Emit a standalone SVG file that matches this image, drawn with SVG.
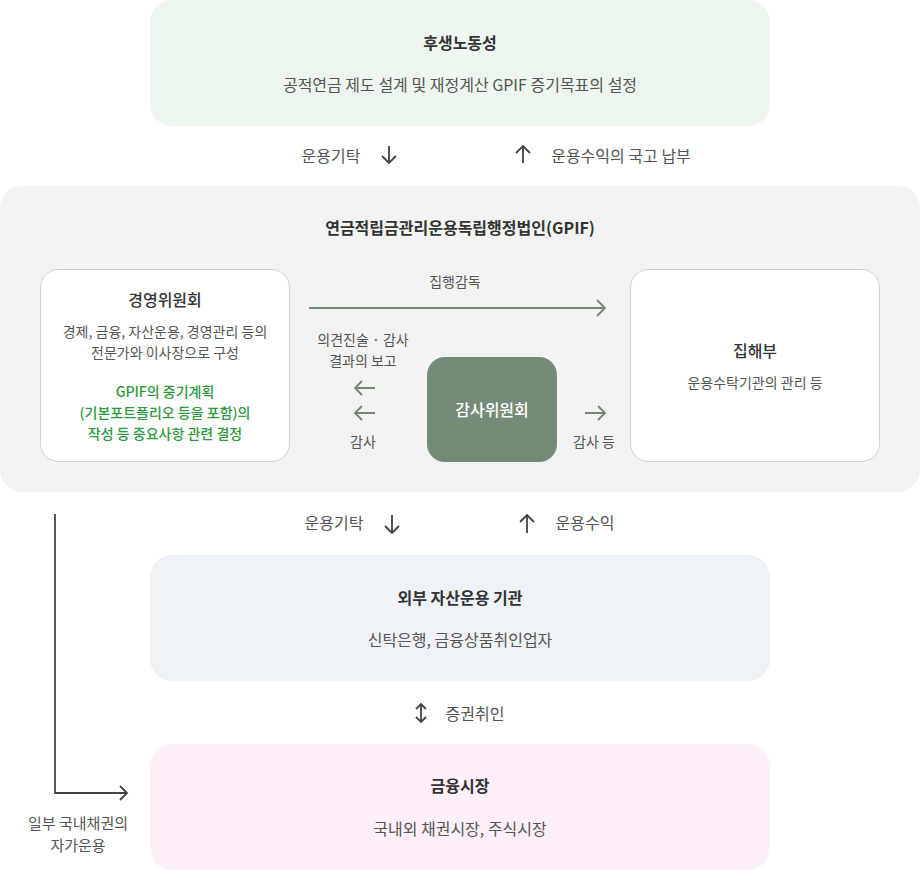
<svg xmlns="http://www.w3.org/2000/svg" width="920" height="870" viewBox="0 0 920 870">
<defs>
<style>
text{font-family:"Noto Sans CJK KR","Noto Sans",sans-serif;text-anchor:middle;}
.t{font-size:16px;font-weight:700;fill:#333;}
.m{font-size:16px;font-weight:500;fill:#333;}
.b{font-size:16px;fill:#555;}
.s{font-size:14px;fill:#555;}
.g{font-size:14px;fill:#2e9a3e;font-weight:500;}
.w{font-size:16px;fill:#fff;font-weight:500;}
.dk{fill:none;stroke:#444;stroke-width:1.8;}
.gr{fill:none;stroke:#6f8a72;stroke-width:1.8;}
</style>
</defs>
<rect width="920" height="870" fill="#fff"/>
<g id="mhlw">
<rect x="150" y="0" width="620" height="126" rx="22" fill="#eef6f0"/>
<text class="t" x="460" y="49">후생노동성</text>
<text class="b" x="460" y="91">공적연금 제도 설계 및 재정계산 GPIF 증기목표의 설정</text>
</g>
<g id="gpif">
<rect x="0" y="186" width="920" height="306" rx="22" fill="#f3f3f3"/>
<text class="t" x="460" y="234">연금적립금관리운용독립행정법인(GPIF)</text>
</g>
<g id="board">
<rect x="40.5" y="269.5" width="249" height="192" rx="18" fill="#fff" stroke="#d0d0d0"/>
<text class="m" x="165" y="306">경영위원회</text>
<text class="s" x="165" y="337">경제, 금융, 자산운용, 경영관리 등의</text>
<text class="s" x="165" y="358">전문가와 이사장으로 구성</text>
<text class="g" x="165" y="397">GPIF의 중기계획</text>
<text class="g" x="165" y="418">(기본포트폴리오 등을 포함)의</text>
<text class="g" x="165" y="439">작성 등 중요사항 관련 결정</text>
</g>
<g id="exec">
<rect x="630.5" y="269.5" width="249" height="192" rx="18" fill="#fff" stroke="#d0d0d0"/>
<text class="m" x="755" y="357">집해부</text>
<text class="s" x="755" y="388">운용수탁기관의 관리 등</text>
</g>
<g id="audit">
<rect x="427" y="357" width="130" height="105" rx="18" fill="#748b77"/>
<text class="w" x="492" y="416">감사위원회</text>
</g>
<g id="mgr">
<rect x="150" y="555" width="620" height="126" rx="22" fill="#eff2f7"/>
<text class="t" x="460" y="604">외부 자산운용 기관</text>
<text class="b" x="460" y="646">신탁은행, 금융상품취인업자</text>
</g>
<g id="market">
<rect x="150" y="744" width="620" height="126" rx="22" fill="#fdf0fa"/>
<text class="t" x="460" y="792">금융시장</text>
<text class="b" x="460" y="835">국내외 채권시장, 주식시장</text>
</g>
<g id="connectors">
<path class="dk" d="M389 146V163M382 156L389 163L396 156"/>
<path class="dk" d="M523 163V146M516 153L523 146L530 153"/>
<path class="gr" d="M309 308H605M597 300L605 308L597 316"/>
<path class="gr" d="M375 388H355M362 381L355 388L362 395"/>
<path class="gr" d="M375 413H355M362 406L355 413L362 420"/>
<path class="gr" d="M585 413H605M598 406L605 413L598 420"/>
<path class="dk" d="M392 515V533M385 526L392 533L399 526"/>
<path class="dk" d="M527 533V515M520 522L527 515L534 522"/>
<path class="dk" d="M421 704V722M416 709L421 704L426 709M416 717L421 722L426 717"/>
<path class="dk" d="M55 514V793H127M120 786L127 793L120 800"/>
</g>
<g id="labels">
<text class="b" x="331" y="162">운용기탁</text>
<text class="b" x="621" y="162">운용수익의 국고 납부</text>
<text class="s" x="455" y="287">집행감독</text>
<text class="s" x="363" y="345">의견진술 · 감사</text>
<text class="s" x="363" y="366">결과의 보고</text>
<text class="s" x="363" y="447">감사</text>
<text class="s" x="594" y="447">감사 등</text>
<text class="b" x="334" y="529">운용기탁</text>
<text class="b" x="585" y="529">운용수익</text>
<text class="b" x="475" y="720">증권취인</text>
<text class="s" x="78" y="829" style="font-size:15px">일부 국내채권의</text>
<text class="s" x="78" y="851" style="font-size:15px">자가운용</text>
</g>
</svg>
